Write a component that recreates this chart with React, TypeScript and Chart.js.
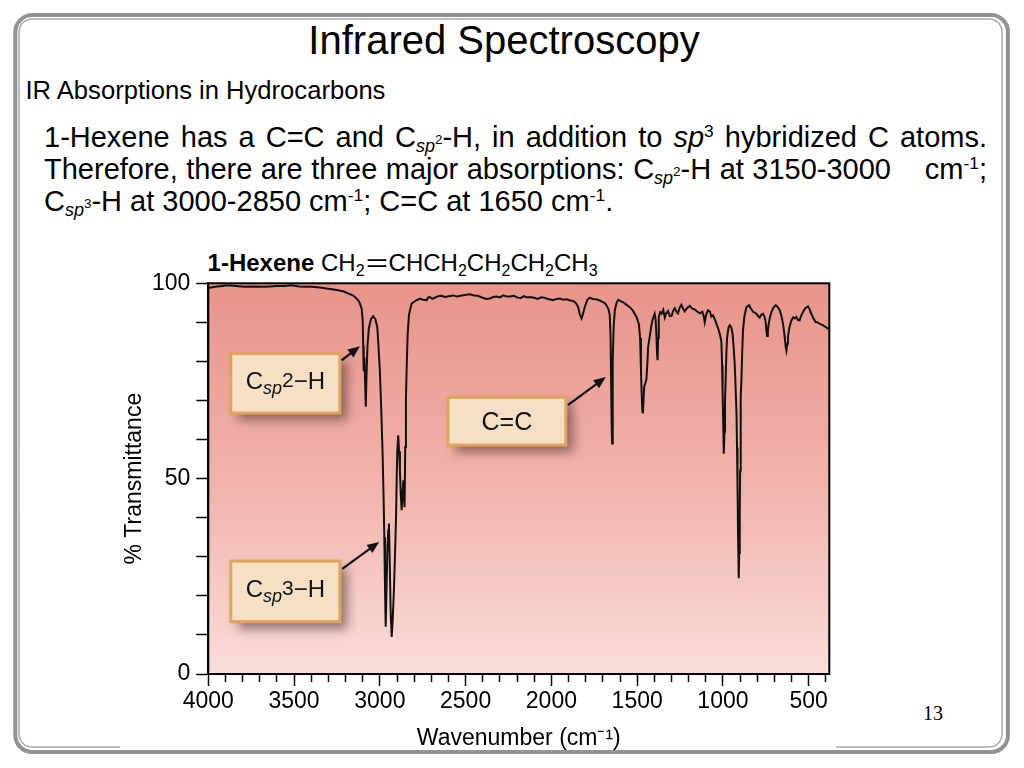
import React, { useEffect, useRef } from "react";
import { Chart, registerables } from "chart.js";

Chart.register(...registerables);

const FONT = '"Liberation Sans", Arial, Helvetica, sans-serif';

// 1-Hexene IR spectrum: wavenumber (cm^-1) and % transmittance
const wavenumbers = [
  4000, 3960, 3920, 3883, 3840, 3786, 3740, 3689, 3640, 3600, 3560, 3514, 3470, 3430, 3398, 3350, 3301, 3270, 3243, 3210,
  3184, 3160, 3145, 3125, 3116, 3106, 3100, 3097, 3094, 3090, 3086, 3082, 3078, 3072, 3064, 3052, 3039, 3026, 3015, 3008,
  3000, 2992, 2984, 2978, 2974, 2970, 2966, 2962, 2956, 2951, 2947, 2943, 2937, 2931, 2925, 2918, 2912, 2906, 2899, 2893,
  2888, 2883, 2878, 2873, 2868, 2863, 2859, 2856, 2852, 2848, 2844, 2838, 2830, 2815, 2790, 2766, 2748, 2727, 2718, 2708,
  2695, 2680, 2660, 2640, 2620, 2600, 2572, 2550, 2530, 2505, 2475, 2450, 2430, 2400, 2380, 2359, 2340, 2320, 2300, 2281,
  2260, 2240, 2220, 2200, 2180, 2160, 2140, 2126, 2100, 2080, 2060, 2040, 2015, 1990, 1970, 1951, 1930, 1910, 1890, 1873,
  1858, 1844, 1834, 1824, 1815, 1805, 1790, 1776, 1760, 1740, 1718, 1700, 1690, 1679, 1668, 1660, 1655, 1652, 1648, 1646,
  1644, 1641, 1637, 1630, 1620, 1610, 1601, 1592, 1582, 1565, 1543, 1525, 1504, 1490, 1483, 1478, 1474, 1470, 1467, 1463,
  1459, 1452, 1446, 1440, 1436, 1427, 1418, 1411, 1404, 1398, 1392, 1388, 1384, 1381, 1378, 1374, 1366, 1358, 1348, 1339,
  1330, 1320, 1310, 1300, 1290, 1281, 1270, 1262, 1252, 1242, 1232, 1223, 1210, 1193, 1178, 1164, 1150, 1135, 1120, 1112,
  1106, 1098, 1087, 1075, 1068, 1058, 1045, 1035, 1029, 1018, 1009, 1005, 1002, 999, 996, 994, 991, 988, 984, 980,
  976, 968, 960, 952, 944, 938, 931, 926, 921, 918, 915, 912, 909, 907, 905, 902, 900, 898, 895, 892,
  888, 883, 875, 863, 848, 838, 825, 815, 805, 795, 786, 776, 766, 758, 751, 747, 743, 738, 733, 725,
  717, 705, 692, 680, 669, 660, 650, 645, 640, 635, 630, 625, 621, 612, 601, 590, 580, 572, 562, 553,
  545, 533, 520, 504, 495, 485, 472, 460, 448, 437, 428, 418, 408, 399, 390, 382,
];

const transmittance = [
  98.8, 99.1, 99.3, 99.5, 99.3, 99.1, 99.2, 99.1, 99.2, 99.3, 99.3, 99.5, 99.2, 99.1, 99.1, 98.9, 98.6, 98.4, 98.2, 97.9,
  97.4, 97.0, 96.5, 95.6, 94.8, 93.5, 90.5, 84.0, 77.5, 81.0, 75.0, 68.4, 76.0, 84.0, 88.5, 90.8, 91.6, 90.8, 88.8, 84.0,
  77.7, 68.0, 56.4, 45.0, 35.0, 22.0, 12.1, 20.0, 32.0, 36.8, 38.5, 30.0, 16.0, 9.5, 14.0, 21.5, 30.0, 39.4, 56.4, 61.1,
  57.0, 52.2, 46.0, 41.9, 46.0, 49.6, 45.0, 42.7, 58.1, 70.0, 77.7, 87.0, 92.0, 94.8, 95.6, 96.1, 95.8, 95.7, 96.4, 96.5,
  96.0, 96.3, 96.7, 96.8, 96.5, 96.7, 96.9, 96.6, 96.8, 97.0, 97.2, 96.9, 96.8, 96.3, 96.0, 96.1, 96.5, 96.6, 96.4, 96.9,
  96.6, 96.6, 96.8, 96.4, 96.2, 96.7, 96.4, 96.5, 96.3, 96.0, 96.4, 96.3, 95.9, 95.7, 96.0, 96.1, 95.8, 95.9, 95.6, 95.5,
  95.0, 93.9, 92.0, 91.0, 92.3, 94.0, 95.8, 96.3, 96.0, 95.9, 95.6, 95.2, 95.0, 94.4, 93.4, 92.0, 86.0, 75.0, 62.0, 59.0,
  66.0, 80.0, 89.0, 93.1, 95.0, 95.8, 95.6, 95.3, 95.2, 94.6, 93.9, 93.0, 91.4, 89.5, 86.0, 78.0, 72.0, 67.5, 66.7, 70.0,
  73.5, 74.5, 75.5, 80.0, 83.7, 86.3, 89.0, 90.5, 91.5, 92.2, 90.5, 87.0, 82.0, 80.3, 86.0, 91.4, 92.6, 92.2, 93.2, 91.2,
  92.4, 92.9, 91.6, 91.6, 93.0, 93.6, 92.6, 92.3, 93.8, 94.5, 93.5, 92.8, 93.6, 94.2, 93.5, 93.3, 92.8, 92.3, 92.7, 91.6,
  90.0, 92.0, 93.1, 92.7, 91.5, 91.8, 90.5, 89.2, 88.6, 87.0, 85.0, 79.0, 72.0, 66.0, 60.0, 56.4, 62.0, 70.0, 75.5, 82.0,
  86.0, 88.6, 89.3, 88.8, 87.1, 84.0, 79.0, 73.0, 66.7, 58.0, 48.0, 36.0, 27.0, 24.5, 31.0, 41.1, 52.0, 64.0, 71.0, 75.5,
  82.0, 88.0, 91.5, 93.9, 94.4, 93.6, 92.7, 92.5, 92.2, 91.6, 91.2, 92.0, 92.2, 91.5, 90.2, 88.0, 86.5, 88.0, 89.7, 91.5,
  92.7, 93.8, 94.4, 93.9, 93.1, 91.8, 89.7, 88.0, 86.3, 84.0, 82.8, 84.5, 86.3, 88.8, 90.5, 91.3, 91.0, 91.4, 90.6, 90.5,
  91.6, 92.7, 93.6, 94.1, 93.4, 92.2, 91.0, 90.1, 90.0, 89.7, 89.5, 89.3, 89.0, 88.8, 88.4, 88.6,
];

const xTickLabels = [4000, 3500, 3000, 2500, 2000, 1500, 1000, 500];
const yTickLabels = [0, 50, 100];
const X_MIN = 380;
const X_MAX = 4000;

type Run = { t: string; size: number; italic?: boolean; dy?: number };

// Callout boxes, anchored in data units (wavenumber, %T)
const callouts: {
  box: [number, number, number, number];
  arrow: [number, number, number, number];
  runs: Run[];
  sub: boolean;
}[] = [
  {
    box: [3869, 3233, 82.0, 66.8],
    arrow: [3223, 80.3, 3116, 83.9],
    runs: [
      { t: "C", size: 24 },
      { t: "sp", size: 18, italic: true, dy: 5 },
      { t: "2", size: 21, dy: -1.5 },
      { t: "\u2212H", size: 24 },
    ],
    sub: true,
  },
  {
    box: [3869, 3233, 28.9, 13.4],
    arrow: [3219, 26.9, 3004, 33.8],
    runs: [
      { t: "C", size: 24 },
      { t: "sp", size: 18, italic: true, dy: 5 },
      { t: "3", size: 21, dy: -1.5 },
      { t: "\u2212H", size: 24 },
    ],
    sub: true,
  },
  {
    box: [2603, 1916, 70.8, 58.6],
    arrow: [1904, 68.8, 1683, 76.0],
    runs: [{ t: "C=C", size: 25 }],
    sub: false,
  },
];

function drawArrow(ctx: CanvasRenderingContext2D, x1: number, y1: number, x2: number, y2: number) {
  const ang = Math.atan2(y2 - y1, x2 - x1);
  const head = 12;
  const hw = 5;
  const c = Math.cos(ang);
  const s = Math.sin(ang);
  ctx.save();
  ctx.strokeStyle = "#111";
  ctx.fillStyle = "#111";
  ctx.lineWidth = 2.2;
  ctx.beginPath();
  ctx.moveTo(x1, y1);
  ctx.lineTo(x2 - c * head * 0.8, y2 - s * head * 0.8);
  ctx.stroke();
  ctx.beginPath();
  ctx.moveTo(x2, y2);
  ctx.lineTo(x2 - head * c + hw * s, y2 - head * s - hw * c);
  ctx.lineTo(x2 - head * c - hw * s, y2 - head * s + hw * c);
  ctx.closePath();
  ctx.fill();
  ctx.restore();
}

function fontOf(r: Run) {
  return `${r.italic ? "italic " : ""}${r.size}px ${FONT}`;
}

const decorPlugin = {
  id: "irDecor",
  beforeDraw(chart: any) {
    const { ctx, chartArea: a } = chart;
    const g = ctx.createLinearGradient(0, a.top, 0, a.bottom);
    g.addColorStop(0, "#E8948A");
    g.addColorStop(0.5, "#F0B2AA");
    g.addColorStop(1, "#FADDD9");
    ctx.save();
    ctx.fillStyle = g;
    ctx.fillRect(a.left, a.top, a.right - a.left, a.bottom - a.top);
    ctx.restore();
  },
  afterDatasetsDraw(chart: any) {
    const { ctx, chartArea: a, scales } = chart;
    const xs = scales.x;
    const ys = scales.y;
    ctx.save();
    ctx.strokeStyle = "#000";
    ctx.lineWidth = 2;
    ctx.strokeRect(a.left, a.top, a.right - a.left, a.bottom - a.top);
    ctx.restore();

    callouts.forEach((co) => {
      const x1 = xs.getPixelForValue(co.box[0]);
      const x2 = xs.getPixelForValue(co.box[1]);
      const y1 = ys.getPixelForValue(co.box[2]);
      const y2 = ys.getPixelForValue(co.box[3]);
      ctx.save();
      ctx.shadowColor = "rgba(60,40,40,0.55)";
      ctx.shadowBlur = 10;
      ctx.shadowOffsetX = 7;
      ctx.shadowOffsetY = 7;
      ctx.fillStyle = "#F5DFC5";
      ctx.fillRect(x1, y1, x2 - x1, y2 - y1);
      ctx.restore();
      ctx.save();
      ctx.strokeStyle = "#E0A45C";
      ctx.lineWidth = 3;
      ctx.strokeRect(x1, y1, x2 - x1, y2 - y1);
      ctx.restore();

      ctx.save();
      ctx.fillStyle = "#111";
      ctx.textBaseline = "alphabetic";
      ctx.textAlign = "left";
      let total = 0;
      const widths = co.runs.map((r) => {
        ctx.font = fontOf(r);
        const w = ctx.measureText(r.t).width;
        total += w;
        return w;
      });
      const cx = (x1 + x2) / 2;
      const cy = (y1 + y2) / 2;
      const base = cy + co.runs[0].size * 0.358 - (co.sub ? 3 : 0);
      let x = cx - total / 2;
      co.runs.forEach((r, i) => {
        ctx.font = fontOf(r);
        ctx.fillText(r.t, x, base + (r.dy || 0));
        x += widths[i];
      });
      ctx.restore();

      drawArrow(
        ctx,
        xs.getPixelForValue(co.arrow[0]),
        ys.getPixelForValue(co.arrow[1]),
        xs.getPixelForValue(co.arrow[2]),
        ys.getPixelForValue(co.arrow[3])
      );
    });
  },
};

function IRChart() {
  const ref = useRef<HTMLCanvasElement>(null);
  useEffect(() => {
    if (!ref.current) return;
    Chart.defaults.font.family = FONT;
    Chart.defaults.color = "#000";
    const chart = new Chart(ref.current, {
      type: "line",
      data: {
        datasets: [
          {
            label: "1-Hexene",
            data: wavenumbers.map((w, i) => ({ x: w, y: transmittance[i] })),
            borderColor: "#111",
            borderWidth: 2,
            pointRadius: 0,
            tension: 0,
            fill: false,
          },
        ],
      },
      options: {
        responsive: false,
        animation: false,
        devicePixelRatio: 1,
        layout: { padding: { left: 0, top: 43.3, right: 30.7, bottom: 8 } },
        plugins: { legend: { display: false }, tooltip: { enabled: false }, title: { display: false } },
        scales: {
          x: {
            type: "linear",
            reverse: true,
            min: X_MIN,
            max: X_MAX,
            afterFit: (s: any) => {
              s.height = 78;
            },
            border: { display: true, color: "#000", width: 2 },
            grid: {
              drawOnChartArea: false,
              drawTicks: true,
              tickLength: 12,
              tickColor: "#000",
              tickWidth: 1.5,
              tickBorderDash: (c: any) =>
                c.tick && xTickLabels.includes(c.tick.value) ? [] : [7, 40],
            },
            ticks: {
              stepSize: 100,
              includeBounds: false,
              autoSkip: false,
              maxRotation: 0,
              padding: 2,
              color: "#000",
              font: { size: 23, family: FONT },
              callback: (v: any) => (xTickLabels.includes(Number(v)) ? String(v) : ""),
            },
            title: {
              display: true,
              text: "Wavenumber (cm\u207B\u00B9)",
              color: "#000",
              font: { size: 23, family: FONT },
              padding: { top: 0, bottom: 0 },
            },
          },
          y: {
            type: "linear",
            min: 0,
            max: 100,
            afterFit: (s: any) => {
              s.width = 108.3;
            },
            border: { display: true, color: "#000", width: 2 },
            grid: {
              drawOnChartArea: false,
              drawTicks: true,
              tickLength: 12,
              tickColor: "#000",
              tickWidth: 1.5,
            },
            ticks: {
              stepSize: 10,
              autoSkip: false,
              padding: 6,
              color: "#000",
              font: { size: 23, family: FONT },
              callback: (v: any) => (yTickLabels.includes(Number(v)) ? String(v) : ""),
            },
            title: {
              display: true,
              text: "% Transmittance",
              color: "#000",
              font: { size: 23, family: FONT },
              padding: { top: 21, bottom: 0 },
            },
          },
        },
      },
      plugins: [decorPlugin],
    } as any);
    return () => chart.destroy();
  }, []);
  return (
    <canvas
      ref={ref}
      width={760}
      height={520}
      style={{ position: "absolute", left: 100, top: 240, width: 760, height: 520 }}
    />
  );
}

const subStyle: React.CSSProperties = { fontSize: "0.62em", verticalAlign: "-0.28em", lineHeight: 0 };
const supStyle: React.CSSProperties = { fontSize: "0.6em", verticalAlign: "0.55em", lineHeight: 0 };
const supSmall: React.CSSProperties = { fontSize: "0.75em", verticalAlign: "0.6em", lineHeight: 0 };

function Csp(n: string) {
  return (
    <>
      C
      <span style={subStyle}>
        <i>sp</i>
        <span style={supSmall}>{n}</span>
      </span>
    </>
  );
}

const cmInv = (
  <>
    cm<span style={supStyle}>-1</span>
  </>
);

export default function App() {
  const lineStyle: React.CSSProperties = {
    position: "absolute",
    left: 44,
    width: 943,
    height: 32.3,
    fontSize: 29,
    lineHeight: "32.3px",
    whiteSpace: "nowrap",
  };
  const chartSub: React.CSSProperties = { fontSize: 16, verticalAlign: "-5px", lineHeight: 0 };
  return (
    <div
      style={{
        position: "fixed",
        left: 0,
        top: 0,
        width: 1024,
        height: 768,
        background: "#fff",
        overflow: "hidden",
        fontFamily: FONT,
        color: "#000",
      }}
    >
      <svg width={1024} height={768} style={{ position: "absolute", left: 0, top: 0 }}>
        <rect x={15.3} y={15} width={992.7} height={737} rx={17} fill="none" stroke="#939393" strokeWidth={4} />
        <rect x={19} y={19} width={983} height={728} rx={13} fill="none" stroke="#ababab" strokeWidth={1.5} />
        <rect x={120} y={744} width={716} height={5} fill="#fff" />
      </svg>

      <div
        style={{
          position: "absolute",
          left: 0,
          top: 19.6,
          width: 1008,
          textAlign: "center",
          fontSize: 40,
          lineHeight: "40px",
        }}
      >
        Infrared Spectroscopy
      </div>

      <div style={{ position: "absolute", left: 25.5, top: 77.6, fontSize: 25.6, lineHeight: "25.6px", whiteSpace: "nowrap" }}>
        IR Absorptions in Hydrocarbons
      </div>

      <div style={{ ...lineStyle, top: 120.5, textAlign: "justify", textAlignLast: "justify" }}>
        1-Hexene has a C=C and {Csp("2")}-H, in addition to <i>sp</i>
        <span style={supStyle}>3</span> hybridized C atoms.
      </div>
      <div style={{ ...lineStyle, top: 152.8, textAlign: "justify", textAlignLast: "justify" }}>
        Therefore, there are three major absorptions: {Csp("2")}-H at 3150-3000{"\u00a0\u00a0\u00a0"} {cmInv};
      </div>
      <div style={{ ...lineStyle, top: 185.1 }}>
        {Csp("3")}-H at 3000-2850 {cmInv}; C=C at 1650 {cmInv}.
      </div>

      <div
        style={{
          position: "absolute",
          left: 207.6,
          top: 251.4,
          fontSize: 24,
          lineHeight: "24px",
          whiteSpace: "nowrap",
        }}
      >
        <b>1-Hexene</b> CH<span style={chartSub}>2</span>
        <span style={{ display: "inline-block", transform: "scaleX(1.6)", margin: "0 5px" }}>=</span>
        CHCH<span style={chartSub}>2</span>CH<span style={chartSub}>2</span>CH<span style={chartSub}>2</span>CH
        <span style={chartSub}>3</span>
      </div>

      <IRChart />

      <div
        style={{
          position: "absolute",
          left: 923,
          top: 703.3,
          fontSize: 20,
          lineHeight: "20px",
          fontFamily: '"Liberation Serif", "Times New Roman", serif',
        }}
      >
        13
      </div>
    </div>
  );
}
